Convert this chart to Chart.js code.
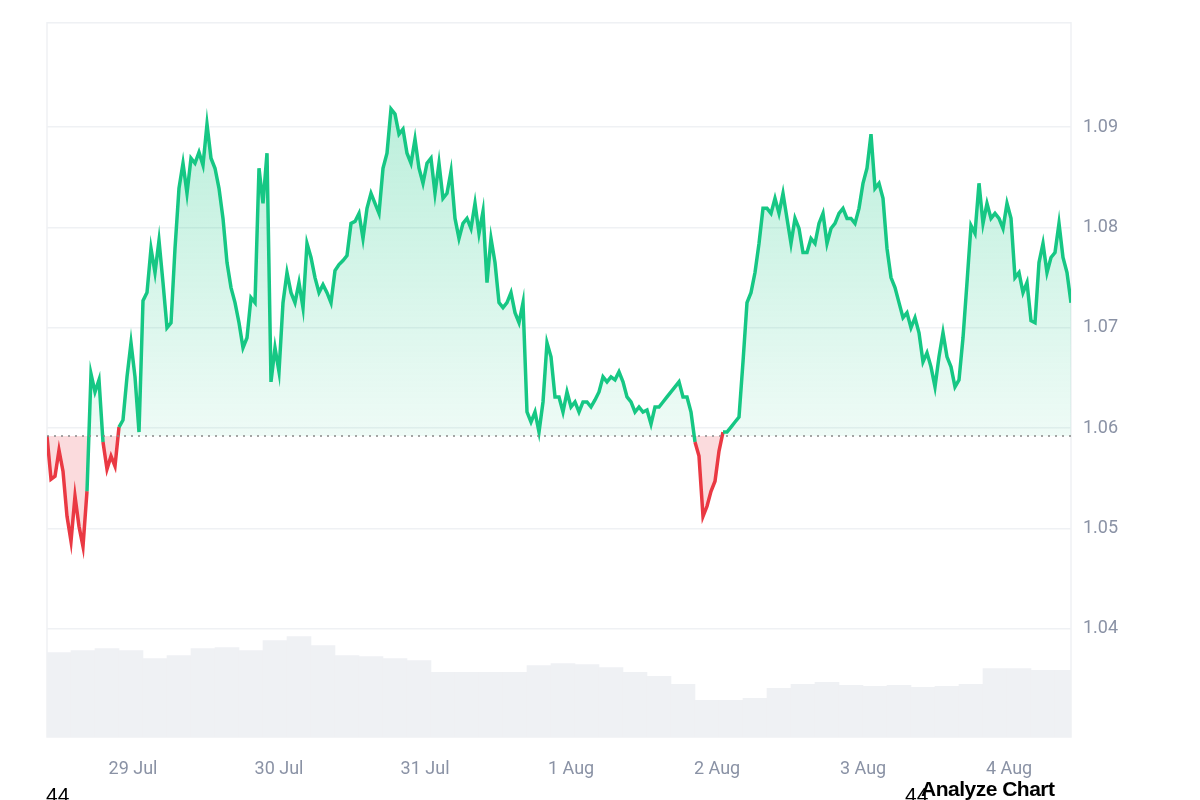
<!DOCTYPE html>
<html><head><meta charset="utf-8">
<script src="https://cdn.jsdelivr.net/npm/chart.js@4"></script>
<style>html,body{margin:0;background:#fff;}#w{position:relative;width:1200px;height:800px;}
.t{position:absolute;font-family:"Liberation Sans",Arial,sans-serif;color:#000;font-size:21px;line-height:1;}</style>
</head><body><div id="w"><canvas id="c" width="1200" height="800"></canvas>
<div class="t" style="left:46px;top:784px;">44</div>
<div class="t" style="left:905px;top:784px;">44</div>
<div class="t" style="left:921px;top:778px;font-weight:bold;letter-spacing:-0.5px;">Analyze Chart</div></div>
<script>
const tickLabels=["29 Jul","30 Jul","31 Jul","1 Aug","2 Aug","3 Aug","4 Aug"];
const tickHours=[14.14,38.14,62.14,86.14,110.14,134.14,158.14];
const stepHours=0.6575;
const baseline=1.0592;
const prices=[1.0592,1.0549,1.0552,1.0578,1.0557,1.0512,1.0487,1.0532,1.0502,1.0482,1.0537,1.0654,1.0636,1.0648,1.0586,1.0559,1.0572,1.0562,1.0601,1.0608,1.0651,1.0685,1.0651,1.0596,1.0727,1.0735,1.0779,1.0755,1.0787,1.0745,1.0700,1.0705,1.0779,1.0839,1.0864,1.0834,1.0869,1.0864,1.0875,1.0862,1.0903,1.0869,1.0859,1.0839,1.0809,1.0765,1.0740,1.0725,1.0705,1.0680,1.0690,1.0730,1.0725,1.0859,1.0824,1.0874,1.0646,1.0680,1.0656,1.0725,1.0755,1.0735,1.0725,1.0745,1.0720,1.0784,1.0770,1.0750,1.0735,1.0743,1.0735,1.0725,1.0757,1.0763,1.0767,1.0772,1.0804,1.0806,1.0814,1.0789,1.0819,1.0834,1.0824,1.0814,1.0859,1.0874,1.0918,1.0913,1.0893,1.0898,1.0874,1.0864,1.0888,1.0859,1.0844,1.0864,1.0869,1.0834,1.0864,1.0829,1.0834,1.0856,1.0809,1.0789,1.0804,1.0809,1.0799,1.0824,1.0794,1.0816,1.0745,1.0789,1.0765,1.0725,1.0720,1.0725,1.0735,1.0715,1.0705,1.0725,1.0616,1.0606,1.0616,1.0596,1.0626,1.0685,1.0671,1.0631,1.0631,1.0616,1.0636,1.0621,1.0626,1.0616,1.0626,1.0626,1.0621,1.0628,1.0636,1.0651,1.0646,1.0651,1.0648,1.0656,1.0646,1.0631,1.0626,1.0616,1.0621,1.0616,1.0618,1.0604,1.0621,1.0621,1.0626,1.0631,1.0636,1.0641,1.0646,1.0631,1.0631,1.0616,1.0586,1.0572,1.0512,1.0522,1.0537,1.0547,1.0577,1.0596,1.0596,1.0601,1.0606,1.0611,1.0666,1.0725,1.0735,1.0755,1.0784,1.0819,1.0819,1.0814,1.0829,1.0814,1.0834,1.0809,1.0784,1.0809,1.0799,1.0775,1.0775,1.0789,1.0784,1.0804,1.0814,1.0784,1.0799,1.0804,1.0814,1.0819,1.0809,1.0809,1.0804,1.0819,1.0844,1.0859,1.0893,1.0839,1.0844,1.0829,1.0779,1.0750,1.0740,1.0725,1.0710,1.0715,1.0700,1.0710,1.0695,1.0666,1.0675,1.0661,1.0641,1.0671,1.0695,1.0671,1.0661,1.0641,1.0648,1.0690,1.0745,1.0802,1.0794,1.0844,1.0804,1.0824,1.0809,1.0814,1.0809,1.0799,1.0824,1.0809,1.0750,1.0755,1.0735,1.0745,1.0707,1.0705,1.0765,1.0784,1.0755,1.0770,1.0775,1.0804,1.0770,1.0755,1.0725];
const volStepHours=3.945;
const volumes=[85,87,89,87,79,82,89,90,87,97,101,92,82,81,79,77,65,65,65,65,72,74,73,70,65,61,53,37,37,39,49,53,55,52,51,52,50,51,53,69,69,67,67];

const GREEN='#16c784',RED='#ea3943',GRID='#eff1f4';
const priceData=prices.map((v,i)=>({x:i*stepHours,y:v}));
const volData=volumes.map((v,i)=>({x:i*volStepHours+volStepHours/2,y:v}));
const xMax=(prices.length-1)*stepHours;

const frame={id:'frame',beforeDatasetsDraw(ch){const a=ch.chartArea,c=ch.ctx;c.save();c.strokeStyle=GRID;c.lineWidth=1.5;
c.strokeRect(a.left,a.top,a.right-a.left,a.bottom-a.top);c.restore();},
afterDatasetsDraw(ch){const a=ch.chartArea,c=ch.ctx,y=ch.scales.y.getPixelForValue(baseline);c.save();c.strokeStyle='#888';c.lineWidth=1.5;c.setLineDash([2,5]);
c.beginPath();c.moveTo(a.left,y);c.lineTo(a.right,y);c.stroke();c.restore();}};

new Chart(document.getElementById('c'),{
 data:{datasets:[
  {type:'line',data:priceData,yAxisID:'y',borderWidth:3.5,pointRadius:0,tension:0,order:1,
   segment:{borderColor:ctx=>((ctx.p0.parsed.y+ctx.p1.parsed.y)/2>=baseline?GREEN:RED)},
   borderColor:GREEN,
   fill:{target:{value:baseline},above:(ctx)=>{const a=ctx.chart.chartArea;if(!a)return 'rgba(22,199,132,0.2)';const g=ctx.chart.ctx.createLinearGradient(0,a.top,0,ctx.chart.scales.y.getPixelForValue(baseline));g.addColorStop(0,'rgba(22,199,132,0.35)');g.addColorStop(1,'rgba(22,199,132,0.07)');return g;},
     below:'rgba(234,57,67,0.18)'}},
  {type:'bar',data:volData,yAxisID:'y2',backgroundColor:'#eff1f4',barPercentage:1,categoryPercentage:1,order:2,grouped:false}
 ]},
 plugins:[frame],
 options:{responsive:false,animation:false,
  layout:{padding:{left:47,top:14,right:0,bottom:0}},
  plugins:{legend:{display:false},tooltip:{enabled:false}},
  scales:{
   x:{type:'linear',min:0,max:xMax,offset:false,grid:{display:false},border:{display:false},
     afterBuildTicks(s){s.ticks=tickHours.map(v=>({value:v}));},
     afterFit(s){s.height=63;},
     ticks:{autoSkip:false,maxRotation:0,padding:14,color:'#8a92a5',font:{family:'Roboto, Liberation Sans',size:18},callback:(v,i)=>tickLabels[i]}},
   y:{position:'right',min:1.0292,max:1.1004,grid:{color:GRID,lineWidth:1.5,drawTicks:false},border:{display:false},
     afterBuildTicks(s){s.ticks=[1.04,1.05,1.06,1.07,1.08,1.09].map(v=>({value:v}));},
     afterFit(s){s.width=129;},
     ticks:{padding:12,color:'#8a92a5',font:{family:'Roboto, Liberation Sans',size:18},callback:v=>v.toFixed(2)}},
   y2:{display:false,min:0,max:719}
  }}
});
</script></body></html>
